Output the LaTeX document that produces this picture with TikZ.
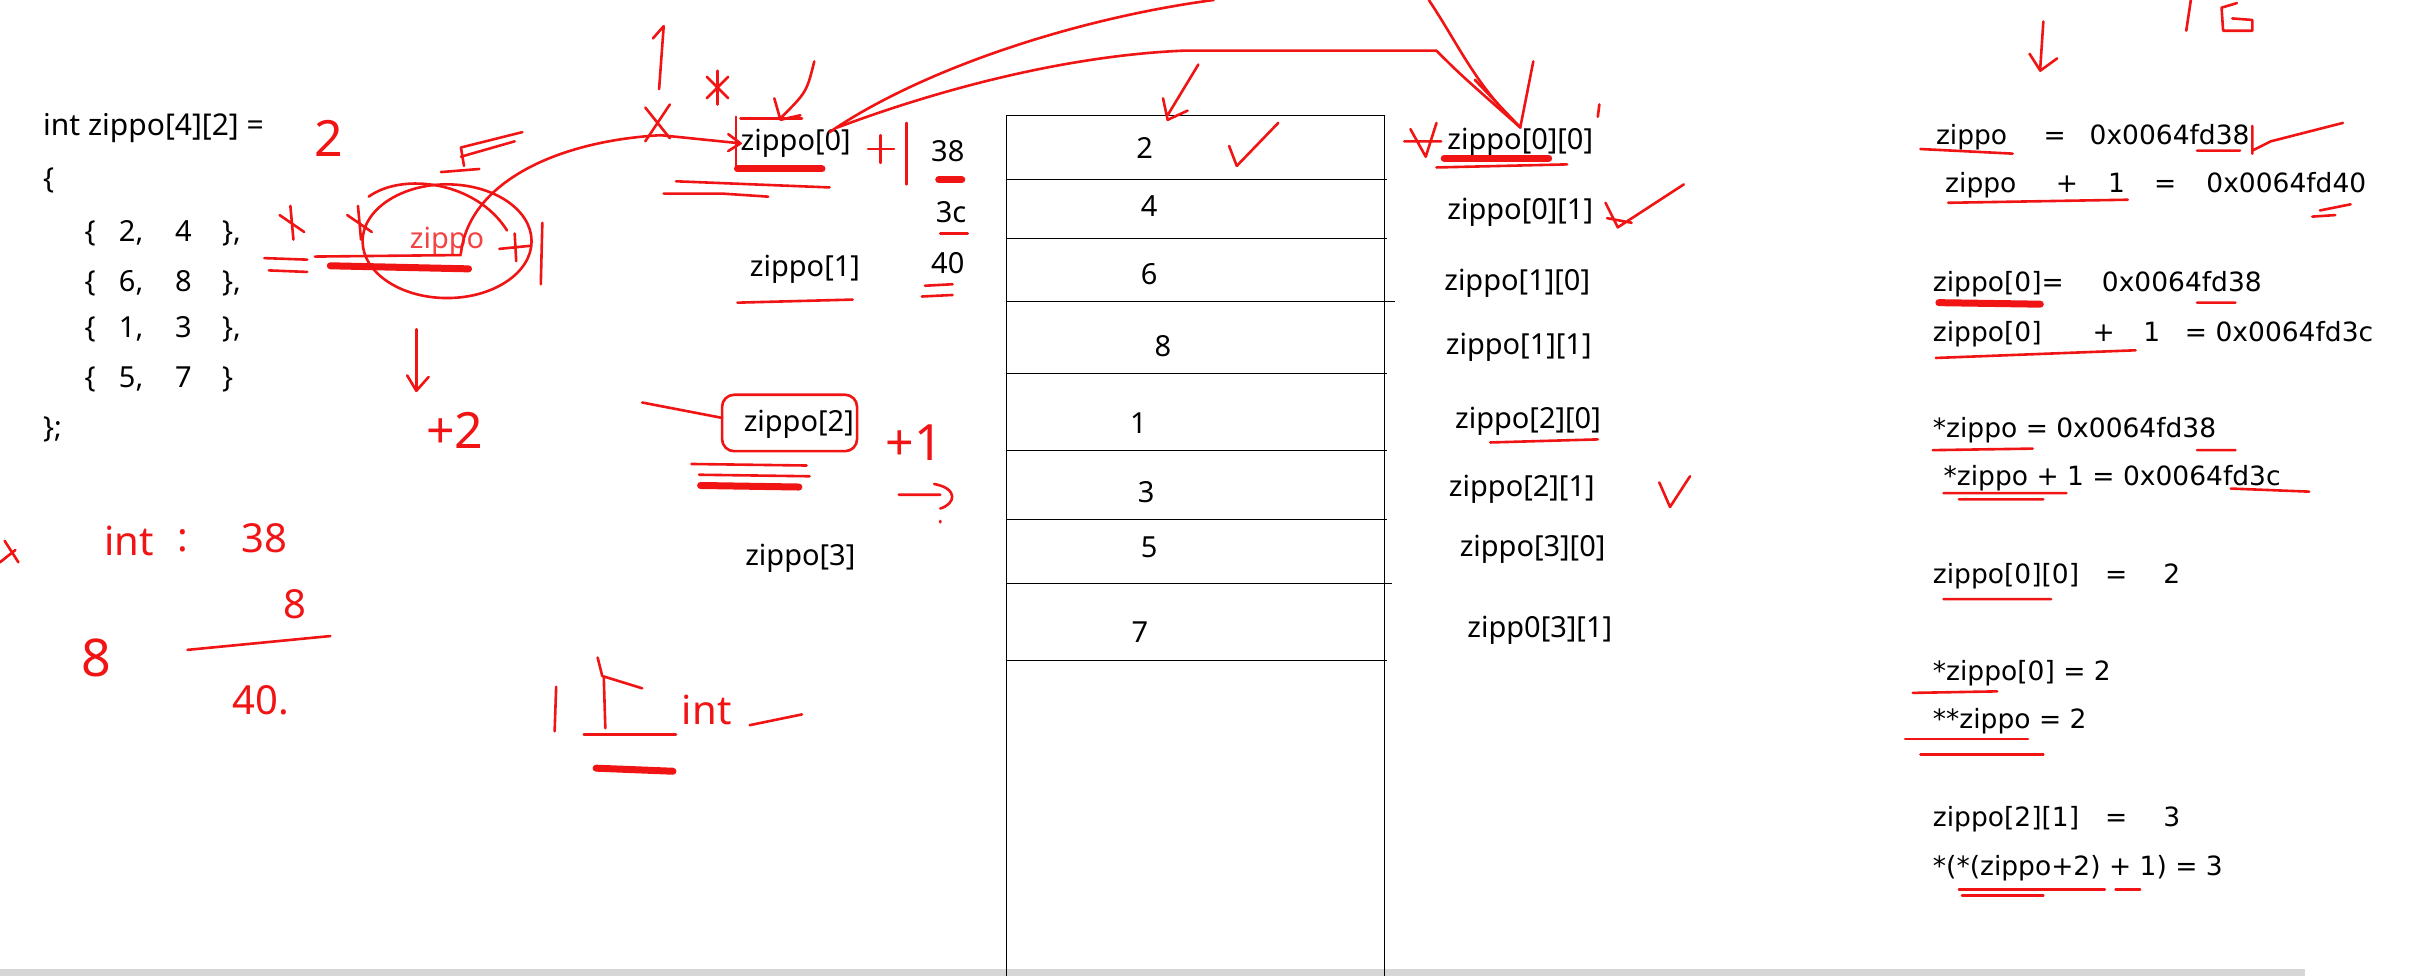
\documentclass[tikz,border=0pt]{standalone}
\usepackage{fontspec}
\setmainfont{Noto Sans}
\newfontfamily\verdfont{DejaVu Sans}
\usetikzlibrary{arrows.meta,calc,positioning}

\definecolor{penred}{RGB}{240,20,20}
\definecolor{barline}{RGB}{214,214,214}

\tikzset{
  lbl/.style={font=\fontsize{29}{32}\selectfont, anchor=base west, inner sep=0pt},
  cellnum/.style={font=\fontsize{29}{32}\selectfont, anchor=base, inner sep=0pt},
  rtxt/.style={font=\verdfont\fontsize{26.5}{30}\selectfont, anchor=base west, inner sep=0pt},
  hand/.style={font=\fontsize{40}{44}\selectfont, text=penred, inner sep=0pt},
  bighand/.style={hand, font=\fontsize{50}{54}\selectfont},
  pen/.style={draw=penred, line width=2.6pt, line cap=round, line join=round},
  blot/.style={draw=penred, line width=7pt, line cap=round},
}

\begin{document}
\begin{tikzpicture}[x=1.5364pt, y=-1.5364pt]
  \useasboundingbox (0,0) rectangle (1568,635);
  \fill[barline] (0,631) rectangle (1500,635);

  % the declaration
  \node[lbl, font=\fontsize{30}{32}\selectfont] (decl) at (28,88) {int zippo[4][2] =};
  \node[lbl] (lbrace) at (28,123) {\{};
  \foreach \a/\b/\y [count=\i] in {2/4/157,6/8/190,1/3/220,5/7/252}{
    \node[lbl] (row\i) at (55,\y) {\{\hspace{0.8em}\a,\hspace{1.1em}\b\hspace{1.05em}\}\ifnum\i<4,\fi};
  }
  \node[lbl] (rbrace) at (28,285) {\};};

  % pointer column and offsets
  \foreach \t/\x/\y [count=\i from 0] in {zippo[0]/482/98,zippo[1]/488/180,zippo[2]/484/281,zippo[3]/485/368}{
    \node[lbl] (ptr\i) at (\x,\y) {\t};
  }
  \node[lbl] (off38) at (606,105) {38};
  \node[lbl] (off3c) at (609,145) {3c};
  \node[lbl] (off40) at (606,178) {40};

  % memory column
  \draw[line width=1.2pt] (655,635) -- (655,75) -- (901,75) -- (901,635);
  \foreach \y/\e in {117/903,155/903,196/908,243/903,293/903,338/903,380/906,430/903}{
    \draw[line width=1.2pt] (655,\y) -- (\e,\y);
  }
  \foreach \v/\x/\y [count=\i] in {2/745/103,4/748/141,6/748/185,8/757/232,1/741/282,3/746/327,5/748/363,7/742/418}{
    \node[cellnum] (cell\i) at (\x,\y) {\v};
  }
  \foreach \t/\x/\y [count=\i] in {zippo[0][0]/942/97,zippo[0][1]/942/143,zippo[1][0]/940/189,zippo[1][1]/941/231,zippo[2][0]/947/279,zippo[2][1]/943/323,zippo[3][0]/950/362,zipp0[3][1]/955/415}{
    \node[lbl] (elem\i) at (\x,\y) {\t};
  }

  % the values
  \foreach \t/\x/\y [count=\i] in {zippo/1260/94,=/1330/94,0x0064fd38/1360/94,
      zippo/1266/125,+/1338/125,1/1372/125,=/1402/125,0x0064fd40/1436/125,
      zippo[0]=/1258/190,0x0064fd38/1368/190,
      zippo[0]/1258/222,+/1362/222,1/1395/222,=/1422/222,0x0064fd3c/1442/222,
      *zippo = 0x0064fd38/1258/285,*zippo + 1 = 0x0064fd3c/1265/316,
      zippo[0][0]/1258/380,=/1370/380,2/1408/380,
      *zippo[0] = 2/1258/443,**zippo = 2/1258/474,
      zippo[2][1]/1258/538,=/1370/538,3/1408/538,
      *(*(zippo+2) + 1) = 3/1258/570}{
    \node[rtxt] (val\i) at (\x,\y) {\t};
  }

  % red pen notes
  \node[font=\fontsize{29}{32}\selectfont, text=penred!80, inner sep=0pt] (zr) at (291,157) {zippo};
  \draw[pen] (zr) ellipse (55 and 37);
  \draw[pen] (240,128) .. controls (262,112) and (310,118) .. (330,150);
  \node[bighand] (two) at (214,90) {2};
  \node[bighand] (plustwo) at (296,280) {+2};
  \node[bighand] (plusone) at (595,288) {+1};
  \draw[pen] (zr.south) ++(-20,48) coordinate (dn0) -- ++(0,40) coordinate (dn1);
  \draw[pen] (dn1) ++(-6,-10) -- (dn1) -- ++(8,-9);
  \draw[pen] (300,165) .. controls (305,120) and (360,92) .. (430,88) -- (ptr0.west);
  \draw[pen] (ptr0.west) ++(-8,-6) -- (ptr0.west) -- ++(-8,5);
  \draw[pen] (540,86) .. controls (600,45) and (700,12) .. (790,0);
  \draw[pen] (930,0) .. controls (950,30) and (960,55) .. (elem1.north);
  \draw[pen] (545,83) .. controls (620,55) and (700,36) .. (770,33) -- (935,33) .. controls (950,48) .. (elem1.north);
  \draw[pen] (960,52) -- (elem1.north) -- (998,40);
  \draw[pen] (482,77) -- (522,77);
  \draw[pen] (479,76) -- (479,110);
  \draw[pen] (565,97) -- (582,97) (573,88) -- (573,106) (590,80) -- (590,120);
  \draw[pen] (325,162) -- (345,160) (335,152) -- (336,170) (353,145) -- (352,185);
  \draw[pen] (182,140) -- (198,151) (189,134) -- (191,156) (226,140) -- (242,151) (233,134) -- (235,156);
  \draw[pen] (287,112) -- (312,110) (302,108) -- (300,96) -- (340,86) (300,102) -- (335,92);
  \draw[pen] (425,25) -- (432,17) -- (429,58);
  \draw[pen] (460,50) -- (474,64) (474,50) -- (460,64) (467,46) -- (467,68);
  \draw[pen] (420,70) -- (436,90) (436,68) -- (420,92);
  \draw[pen] (530,40) .. controls (525,60) .. (508,77) (504,64) -- (508,78) -- (521,75);
  \draw[pen] (780,42) -- (760,75) (757,64) -- (760,78) -- (773,72);
  \draw[pen] (800,95) -- (805,108) -- (832,80);
  \draw[pen] (918,84) -- (928,102) -- (935,80) (914,92) -- (938,92);
  \draw[pen] (1041,68) -- (1040,76);
  \draw[pen] (1045,132) -- (1053,148) -- (1096,120) (1046,142) -- (1062,145);
  \draw[pen] (1080,314) -- (1087,330) -- (1100,310);
  \draw[pen] (1330,14) -- (1328,44) (1321,35) -- (1328,46) -- (1339,38);
  \draw[pen] (1426,0) -- (1423,20) (1456,2) -- (1446,5) -- (1447,20) -- (1466,20) -- (1466,13) -- (1453,12);

  % underlines
  \draw[blot] (215,173) -- (305,175);
  \draw[pen] (205,167) -- (300,166) (172,168) -- (200,169) (175,176) -- (200,177);
  \draw[blot] (480,110) -- (535,110);
  \draw[pen] (440,118) -- (540,122) (432,126) -- (470,126) (470,126) -- (500,128);
  \draw[blot] (611,117) -- (626,117);
  \draw[pen] (612,152) -- (630,152) (602,186) -- (620,185) (600,193) -- (620,192);
  \draw[pen] (480,197) -- (555,195);
  \draw[pen, rounded corners=12] (ptr2.south west) ++(-14,8) rectangle ($(ptr2.north east)+(2,-10)$);
  \draw[pen] (418,262) -- (470,272);
  \draw[pen] (450,302) -- (525,303) (455,309) -- (527,310);
  \draw[blot] (456,316) -- (520,317);
  \draw[pen] (585,322) -- (612,322) (608,315) .. controls (624,318) and (622,328) .. (612,331) (612,339) -- (612,340);
  \draw[blot] (940,103) -- (1008,103);
  \draw[pen] (935,109) -- (1020,107) (970,288) -- (1040,286);
  \draw[pen] (1250,97) -- (1310,100) (1430,98) -- (1458,98) (1466,82) -- (1466,100) (1466,98) -- (1478,92) -- (1525,80);
  \draw[pen] (1268,132) -- (1385,130) (1510,137) -- (1530,133) (1505,141) -- (1520,140);
  \draw[blot] (1262,197) -- (1328,198);
  \draw[pen] (1430,197) -- (1455,197) (1260,233) -- (1390,228);
  \draw[pen] (1258,293) -- (1323,292) (1430,293) -- (1455,293);
  \draw[pen] (1265,321) -- (1345,321) (1275,325) -- (1330,325) (1452,318) -- (1503,320);
  \draw[pen] (1265,390) -- (1335,390) (1245,451) -- (1300,450);
  \draw[pen] (1240,481) -- (1320,481) (1250,491) -- (1330,491);
  \draw[pen] (1275,579) -- (1370,579) (1277,583) -- (1330,583) (1377,579) -- (1393,579);

  % sums in the margin
  \node[hand] (hint) at (84,352) {int};
  \node[hand] (hcolon) at (119,352) {:};
  \node[hand] (h38) at (172,350) {38};
  \node[hand] (h8a) at (192,393) {8};
  \node[hand, font=\fontsize{52}{56}\selectfont] (h8b) at (63,428) {8};
  \draw[pen] (122,423) -- (215,414);
  \node[hand] (h40) at (170,456) {40.};
  \draw[pen] (3,352) -- (12,366) (0,366) -- (10,358);
  \draw[pen] (362,447) -- (361,476);
  \draw[pen] (389,428) -- (392,440) -- (418,448);
  \draw[pen] (393,441) -- (394,474);
  \node[hand] (hone) at (460,462) {int};
  \draw[pen] (488,472) -- (522,465);
  \draw[pen] (380,478) -- (440,478);
  \draw[blot] (388,500) -- (438,502);
\end{tikzpicture}
\end{document}
